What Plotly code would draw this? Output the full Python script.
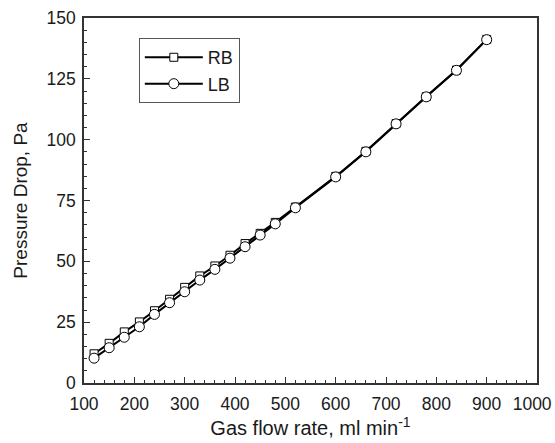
import plotly.graph_objects as go

flow_rate = [120, 150, 180, 210, 240, 270, 300, 330, 360, 390, 420, 450, 480, 520,
             600, 660, 720, 780, 840, 900]
rb_drop = [12.0, 16.3, 21.0, 25.1, 29.7, 34.4, 39.3, 44.0, 48.1, 52.5, 57.3, 61.5, 66.0, 72.3,
           84.9, 95.2, 106.6, 117.7, 128.6, 141.2]
lb_drop = [10.2, 14.5, 18.8, 23.1, 28.2, 33.0, 37.5, 42.3, 46.7, 51.3, 56.0, 60.8, 65.4, 72.0,
           84.7, 95.0, 106.5, 117.6, 128.5, 141.1]

x_ticks = [100, 200, 300, 400, 500, 600, 700, 800, 900, 1000]
x_tick_labels = ["100", "200", "300", "400", "500", "600", "700", "800", "900", "1000\u00a0\u00a0"]
y_ticks = [0, 25, 50, 75, 100, 125, 150]

FONT = "Arial, Liberation Sans, sans-serif"
INK = "#1a1a1a"

fig = go.Figure()
fig.add_trace(go.Scatter(
    x=flow_rate, y=rb_drop, name="RB", mode="lines+markers",
    line=dict(color="black", width=2),
    marker=dict(symbol="square", size=8, color="white", line=dict(color="black", width=1)),
))
fig.add_trace(go.Scatter(
    x=flow_rate, y=lb_drop, name="LB", mode="lines+markers",
    line=dict(color="black", width=2),
    marker=dict(symbol="circle", size=10, color="white", line=dict(color="black", width=1)),
))

axis_common = dict(
    showline=True, linecolor="#333333", linewidth=1.5, mirror=True,
    showgrid=False, zeroline=False,
    ticks="inside", ticklen=6, tickwidth=1, tickcolor="#333333",
    tickfont=dict(family=FONT, size=17.5, color=INK),
    ticklabeloverflow="allow", automargin=False,
)

fig.update_xaxes(
    range=[100, 1000], tickmode="array", tickvals=x_ticks,
    ticktext=x_tick_labels,
    minor=dict(dtick=20, tick0=100, ticks="inside", ticklen=3, tickcolor="#333333"),
    title=dict(text="Gas flow rate, ml min<sup>-1</sup>",
               font=dict(family=FONT, size=20, color=INK), standoff=6),
    ticklabelstandoff=4,
    **axis_common,
)
fig.update_yaxes(
    range=[0, 150], tickmode="array", tickvals=y_ticks,
    ticktext=[str(v) for v in y_ticks],
    minor=dict(dtick=5, tick0=0, ticks="inside", ticklen=3, tickcolor="#333333"),
    title=dict(text="Pressure Drop, Pa",
               font=dict(family=FONT, size=19, color=INK), standoff=14),
    ticklabelstandoff=3,
    **axis_common,
)

fig.update_layout(
    width=555, height=443,
    margin=dict(l=84, r=18, t=18, b=60),
    plot_bgcolor="white", paper_bgcolor="white",
    font=dict(family=FONT, color=INK),
    legend=dict(
        x=0.121, y=0.945, xanchor="left", yanchor="top",
        bordercolor="#555555", borderwidth=1, bgcolor="white",
        font=dict(family=FONT, size=18, color=INK),
        itemwidth=58, tracegroupgap=0,
    ),
)

fig.write_html("out.html")
